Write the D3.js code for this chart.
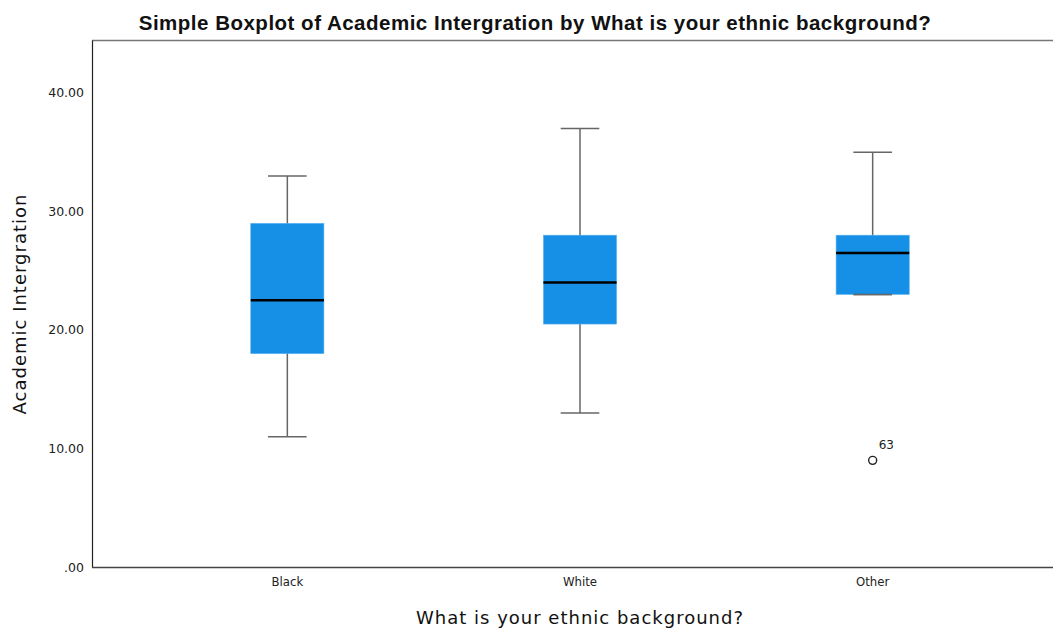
<!DOCTYPE html>
<html>
<head>
<meta charset="utf-8">
<script src="https://cdn.jsdelivr.net/npm/d3@7"></script>
<style>
  html, body { margin: 0; padding: 0; background: #fff; }
  svg { display: block; }
</style>
</head>
<body>
<svg id="chart" width="1053" height="628"></svg>
<script>
// Box-plot summaries per ethnic group
const categories = ["Black", "White", "Other"];
const whiskerLow  = [11, 13, 23];
const quartile1   = [18, 20.5, 23];
const medians     = [22.5, 24, 26.5];
const quartile3   = [29, 28, 28];
const whiskerHigh = [33, 37, 35];
// Outlying cases: group, value, case number
const outlierGroup = ["Other"];
const outlierValue = [9];
const outlierCase  = ["63"];
const yTicks = [0, 10, 20, 30, 40];

const svg = d3.select("#chart");
const plotLeft = 92, plotTop = 40, plotBottom = 567;

const x = d3.scaleBand().domain(categories).range([141, 1019]).paddingInner(0).paddingOuter(0);
const y = d3.scaleLinear().domain([0, 44.47]).range([plotBottom, plotTop]);
const boxW = x.bandwidth() * 0.25;
const capW = x.bandwidth() * 0.125;

// Frame
svg.append("line").attr("x1", plotLeft).attr("x2", 1053).attr("y1", plotTop + 0.5).attr("y2", plotTop + 0.5)
  .attr("stroke", "#777").attr("stroke-width", 1.5);

const yAxis = d3.axisLeft(y).tickValues(yTicks).tickSize(0).tickPadding(8)
  .tickFormat(d => d === 0 ? ".00" : d3.format(".2f")(d));
const gy = svg.append("g").attr("transform", `translate(${plotLeft},0)`).call(yAxis);
gy.select(".domain").attr("stroke", "#222").attr("stroke-width", 1.2);
gy.selectAll("text").attr("font-family", "DejaVu Sans").attr("font-size", 12.5).attr("fill", "#222");

const xAxis = d3.axisBottom(x).tickSize(0).tickPadding(10);
const gx = svg.append("g").attr("transform", `translate(0,${plotBottom})`).call(xAxis);
gx.select(".domain").remove();
gx.selectAll("text").attr("font-family", "Liberation Sans Narrow, DejaVu Sans Condensed, sans-serif")
  .attr("font-size", 13).attr("fill", "#222");
svg.append("line").attr("x1", plotLeft).attr("x2", 1053).attr("y1", plotBottom + 0.5).attr("y2", plotBottom + 0.5)
  .attr("stroke", "#444").attr("stroke-width", 1.5);

// Boxes
const groups = svg.append("g").selectAll("g").data(categories).join("g")
  .attr("transform", d => `translate(${x(d) + x.bandwidth() / 2},0)`);

groups.append("line").attr("x1", 0).attr("x2", 0)
  .attr("y1", (d, i) => y(whiskerHigh[i])).attr("y2", (d, i) => y(whiskerLow[i]))
  .attr("stroke", "#666").attr("stroke-width", 1.5);
groups.append("line").attr("x1", -capW / 2 - 1).attr("x2", capW / 2 + 1)
  .attr("y1", (d, i) => y(whiskerHigh[i])).attr("y2", (d, i) => y(whiskerHigh[i]))
  .attr("stroke", "#666").attr("stroke-width", 1.5);
groups.append("line").attr("x1", -capW / 2 - 1).attr("x2", capW / 2 + 1)
  .attr("y1", (d, i) => y(whiskerLow[i])).attr("y2", (d, i) => y(whiskerLow[i]))
  .attr("stroke", "#666").attr("stroke-width", 1.5);
groups.append("rect").attr("x", -boxW / 2).attr("width", boxW)
  .attr("y", (d, i) => y(quartile3[i])).attr("height", (d, i) => y(quartile1[i]) - y(quartile3[i]))
  .attr("fill", "#1590e6").attr("stroke", "#5db4f0").attr("stroke-width", 0.6);
groups.append("line").attr("x1", -capW / 2 - 1).attr("x2", capW / 2 + 1)
  .attr("y1", (d, i) => y(whiskerLow[i])).attr("y2", (d, i) => y(whiskerLow[i]))
  .attr("stroke", "#666").attr("stroke-width", 1.5)
  .attr("display", (d, i) => whiskerLow[i] === quartile1[i] ? null : "none");
groups.append("line").attr("x1", -boxW / 2).attr("x2", boxW / 2)
  .attr("y1", (d, i) => y(medians[i])).attr("y2", (d, i) => y(medians[i]))
  .attr("stroke", "#000").attr("stroke-width", 2.5);

// Outliers
const outG = svg.append("g");
outlierValue.forEach((v, i) => {
  const cx = x(outlierGroup[i]) + x.bandwidth() / 2;
  outG.append("circle").attr("cx", cx).attr("cy", y(v)).attr("r", 4)
    .attr("fill", "none").attr("stroke", "#222").attr("stroke-width", 1.4);
  outG.append("text").attr("x", cx + 6).attr("y", y(v) - 11).text(outlierCase[i])
    .attr("font-family", "DejaVu Sans").attr("font-size", 12).attr("fill", "#222");
});

// Titles
svg.append("text").attr("x", 535).attr("y", 30).attr("text-anchor", "middle")
  .attr("font-family", "Liberation Sans, Arial, sans-serif").attr("font-weight", "bold")
  .attr("font-size", 20.5).attr("letter-spacing", 0.5).attr("fill", "#111")
  .text("Simple Boxplot of Academic Intergration by What is your ethnic background?");

svg.append("text").attr("transform", "translate(26,304) rotate(-90)").attr("text-anchor", "middle")
  .attr("font-family", "DejaVu Sans").attr("font-size", 18).attr("letter-spacing", 1).attr("fill", "#111")
  .text("Academic Intergration");

svg.append("text").attr("x", 580).attr("y", 624).attr("text-anchor", "middle")
  .attr("font-family", "DejaVu Sans").attr("font-size", 18).attr("letter-spacing", 1).attr("fill", "#111")
  .text("What is your ethnic background?");
</script>
</body>
</html>
